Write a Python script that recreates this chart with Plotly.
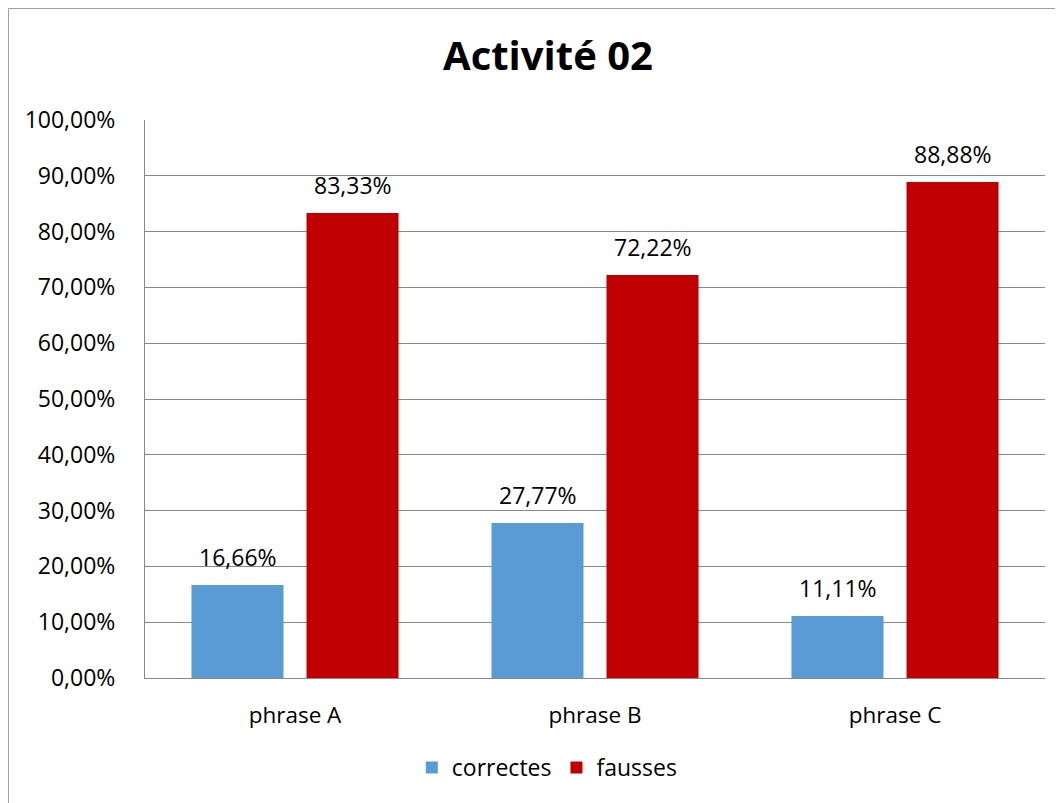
import plotly.graph_objects as go

categories = ["phrase A", "phrase B", "phrase C"]
correctes = [0.1666, 0.2777, 0.1111]
fausses = [0.8333, 0.7222, 0.8888]
series_names = ["correctes", "fausses"]
colors = ["#5B9BD5", "#C00000"]
title_text = "Activité 02"

FONT = "Open Sans, Liberation Sans, sans-serif"

fig = go.Figure()
for name, vals, col in zip(series_names, [correctes, fausses], colors):
    fig.add_trace(go.Bar(
        x=categories, y=vals, name=name,
        marker=dict(color=col, line=dict(width=0)),
        textposition="none",
        offsetgroup=name,
    ))

# data labels above the bars
annotations = []
n = len(series_names)
for i, vals in enumerate([correctes, fausses]):
    for j, v in enumerate(vals):
        annotations.append(dict(
            x=categories[j], y=v, xref="x", yref="y",
            text=f"{v*100:.2f}%".replace(".", ","),
            showarrow=False, yanchor="bottom", yshift=10,
            xshift=(i - (n - 1) / 2) * 115,
            font=dict(family=FONT, size=23, color="#000000"),
        ))

fig.update_layout(
    width=1063, height=803,
    margin=dict(l=137, r=26, t=112, b=133),
    paper_bgcolor="white", plot_bgcolor="white",
    separators=", ",
    barmode="group", bargap=0.233, bargroupgap=0.2,
    title=dict(text="<b>" + title_text + "</b>", x=0.508, xanchor="center",
               y=0.94, yanchor="middle",
               font=dict(family=FONT, size=40, color="#000000")),
    font=dict(family=FONT, size=23, color="#000000"),
    showlegend=True,
    legend=dict(orientation="h", x=0.447, xanchor="center", y=-0.1605, yanchor="middle",
                font=dict(family=FONT, size=23, color="#000000"),
                itemsizing="constant", traceorder="normal"),
    annotations=annotations,
    shapes=[dict(type="rect", xref="paper", yref="paper",
                 x0=-0.1517, x1=1.2, y0=-0.4, y1=1.1998,
                 line=dict(color="#9E9E9E", width=1), layer="below")],
)
fig.update_yaxes(range=[0, 1.0], dtick=0.1, tickformat=".2%",
                 showgrid=True, gridcolor="#888888", gridwidth=1,
                 showline=True, linecolor="#888888", linewidth=1,
                 ticks="", ticklabelstandoff=24, zeroline=False,
                 tickfont=dict(family=FONT, size=23))
fig.update_xaxes(showline=True, linecolor="#888888", linewidth=1,
                 ticks="", ticklabelstandoff=17,
                 tickfont=dict(family=FONT, size=22.5))

fig.write_html("out.html")
